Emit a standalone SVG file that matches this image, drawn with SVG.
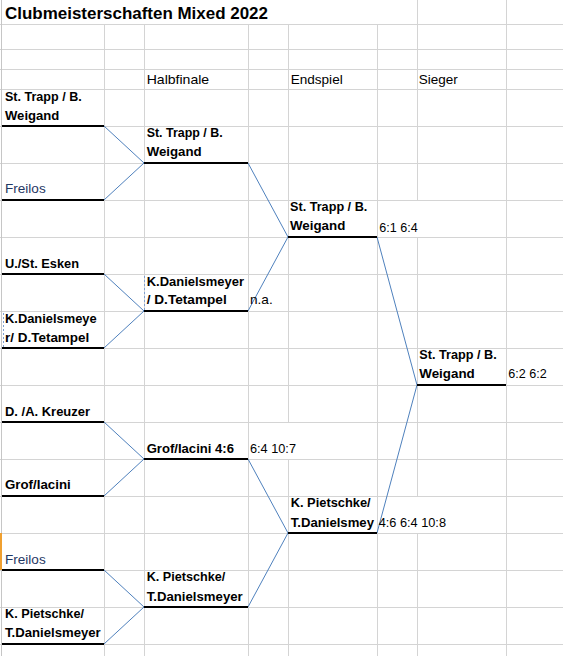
<svg xmlns="http://www.w3.org/2000/svg" width="563" height="656" viewBox="0 0 563 656">
<style>
  .grid { stroke: #D4D4D4; stroke-width: 1; fill: none; }
  .bar { stroke: #000; stroke-width: 2; }
  .conn { stroke: #4F81BD; stroke-width: 1; fill: none; }
  .b { font-family: "Liberation Sans", Arial, sans-serif; font-size: 13px; font-weight: bold; fill: #000; }
  .n { font-family: "Liberation Sans", Arial, sans-serif; font-size: 13px; fill: #000; }
  .fl { font-family: "Liberation Sans", Arial, sans-serif; font-size: 13px; fill: #1F3864; }
  .title { font-family: "Liberation Sans", Arial, sans-serif; font-size: 17px; font-weight: bold; fill: #000; }
  .dash { stroke: #7FA0D0; stroke-width: 1; stroke-dasharray: 2 2; }
</style>
<rect width="563" height="656" fill="#fff"/>
<g id="grid">
  <path class="grid" d="M0 24.5H563M0 49.5H563M0 69.5H563M0 89.5H563M0 126.5H563M0 163.5H563M0 200.5H563M0 237.5H563M0 274.5H563M0 311.5H563M0 348.5H563M0 385.5H563M0 422.5H563M0 459.5H563M0 496.5H563M0 533.5H563M0 570.5H563M0 607.5H563M0 644.5H563"/>
  <path class="grid" d="M104.5 24V656M144.5 24V656M248.5 24V656M288.5 24V422M288.5 459V656M377.5 24V656M417.5 0V200M417.5 237V496M417.5 533V656M506.5 0V656"/>
  <path d="M1.5 0V656" stroke="#C6C6C6" stroke-width="1"/>
  <rect x="0" y="533" width="2" height="37" fill="#F0A030"/>
  <line class="dash" x1="144.5" y1="276" x2="144.5" y2="310"/>
  <line class="dash" x1="3.5" y1="313" x2="3.5" y2="347"/>
</g>
<g id="title">
  <text class="title" x="5" y="19" textLength="263" lengthAdjust="spacingAndGlyphs">Clubmeisterschaften Mixed 2022</text>
</g>
<g id="headers">
  <text class="n" x="146.7" y="84" textLength="62.5" lengthAdjust="spacingAndGlyphs">Halbfinale</text>
  <text class="n" x="290.7" y="84" textLength="52" lengthAdjust="spacingAndGlyphs">Endspiel</text>
  <text class="n" x="418.7" y="84" textLength="39" lengthAdjust="spacingAndGlyphs">Sieger</text>
</g>
<g id="connectors">
  <line class="conn" x1="104" y1="126" x2="144" y2="163"/>
  <line class="conn" x1="104" y1="200" x2="144" y2="163"/>
  <line class="conn" x1="104" y1="274" x2="144" y2="311"/>
  <line class="conn" x1="104" y1="348" x2="144" y2="311"/>
  <line class="conn" x1="104" y1="422" x2="144" y2="459"/>
  <line class="conn" x1="104" y1="496" x2="144" y2="459"/>
  <line class="conn" x1="104" y1="570" x2="144" y2="607" stroke-width="2"/>
  <line class="conn" x1="104" y1="644" x2="144" y2="607"/>
  <line class="conn" x1="248" y1="163" x2="288" y2="237"/>
  <line class="conn" x1="248" y1="311" x2="288" y2="237"/>
  <line class="conn" x1="248" y1="459" x2="288" y2="533"/>
  <line class="conn" x1="248" y1="607" x2="288" y2="533"/>
  <line class="conn" x1="377" y1="237" x2="417" y2="385"/>
  <line class="conn" x1="377" y1="533" x2="417" y2="385"/>
</g>
<g id="r1-1">
  <line class="bar" x1="2" y1="126" x2="104" y2="126"/>
  <text class="b" x="5" y="100.5" textLength="76.7" lengthAdjust="spacingAndGlyphs">St. Trapp / B.</text>
  <text class="b" x="5" y="120" textLength="54.3" lengthAdjust="spacingAndGlyphs">Weigand</text>
</g>
<g id="r1-2">
  <line class="bar" x1="2" y1="200" x2="104" y2="200"/>
  <text class="fl" x="5" y="193.3" textLength="40.7" lengthAdjust="spacingAndGlyphs">Freilos</text>
</g>
<g id="r1-3">
  <line class="bar" x1="2" y1="274" x2="104" y2="274"/>
  <text class="b" x="5" y="267.7" textLength="74" lengthAdjust="spacingAndGlyphs">U./St. Esken</text>
</g>
<g id="r1-4">
  <line class="bar" x1="2" y1="348" x2="104" y2="348"/>
  <text class="b" x="5" y="322.7" textLength="91.7" lengthAdjust="spacingAndGlyphs">K.Danielsmeye</text>
  <text class="b" x="5" y="341.7" textLength="84.3" lengthAdjust="spacingAndGlyphs">r/ D.Tetampel</text>
</g>
<g id="r1-5">
  <line class="bar" x1="2" y1="422" x2="104" y2="422"/>
  <text class="b" x="5" y="415.7" textLength="85" lengthAdjust="spacingAndGlyphs">D. /A. Kreuzer</text>
</g>
<g id="r1-6">
  <line class="bar" x1="2" y1="496" x2="104" y2="496"/>
  <text class="b" x="5" y="489.3" textLength="65.7" lengthAdjust="spacingAndGlyphs">Grof/Iacini</text>
</g>
<g id="r1-7">
  <line class="bar" x1="2" y1="570" x2="104" y2="570"/>
  <text class="fl" x="5" y="564" textLength="40.7" lengthAdjust="spacingAndGlyphs">Freilos</text>
</g>
<g id="r1-8">
  <line class="bar" x1="2" y1="644" x2="104" y2="644"/>
  <text class="b" x="5" y="617.7" textLength="79" lengthAdjust="spacingAndGlyphs">K. Pietschke/</text>
  <text class="b" x="5" y="637.3" textLength="95.7" lengthAdjust="spacingAndGlyphs">T.Danielsmeyer</text>
</g>
<g id="sf-1">
  <line class="bar" x1="144" y1="163" x2="248" y2="163"/>
  <text class="b" x="146.7" y="137.3" textLength="76" lengthAdjust="spacingAndGlyphs">St. Trapp / B.</text>
  <text class="b" x="146.7" y="156" textLength="55" lengthAdjust="spacingAndGlyphs">Weigand</text>
</g>
<g id="sf-2">
  <line class="bar" x1="144" y1="311" x2="248" y2="311"/>
  <text class="b" x="146.7" y="285.7" textLength="97.3" lengthAdjust="spacingAndGlyphs">K.Danielsmeyer</text>
  <text class="b" x="146.7" y="304.3" textLength="80" lengthAdjust="spacingAndGlyphs">/ D.Tetampel</text>
  <text class="n" x="250" y="304.3" textLength="22.7" lengthAdjust="spacingAndGlyphs">n.a.</text>
</g>
<g id="sf-3">
  <line class="bar" x1="144" y1="459" x2="248" y2="459"/>
  <text class="b" x="146.7" y="452.7" textLength="87.3" lengthAdjust="spacingAndGlyphs">Grof/Iacini 4:6</text>
  <text class="n" x="250" y="452.7" textLength="46" lengthAdjust="spacingAndGlyphs">6:4 10:7</text>
</g>
<g id="sf-4">
  <line class="bar" x1="144" y1="607" x2="248" y2="607"/>
  <text class="b" x="146.7" y="580.7" textLength="78.6" lengthAdjust="spacingAndGlyphs">K. Pietschke/</text>
  <text class="b" x="146.7" y="600.7" textLength="96" lengthAdjust="spacingAndGlyphs">T.Danielsmeyer</text>
</g>
<g id="f-1">
  <line class="bar" x1="288" y1="237" x2="377" y2="237"/>
  <text class="b" x="290" y="211" textLength="77.3" lengthAdjust="spacingAndGlyphs">St. Trapp / B.</text>
  <text class="b" x="290" y="230" textLength="55.3" lengthAdjust="spacingAndGlyphs">Weigand</text>
  <text class="n" x="379.3" y="231.7" textLength="38.4" lengthAdjust="spacingAndGlyphs">6:1 6:4</text>
</g>
<g id="f-2">
  <line class="bar" x1="288" y1="533" x2="377" y2="533"/>
  <text class="b" x="290.7" y="506.7" textLength="80" lengthAdjust="spacingAndGlyphs">K. Pietschke/</text>
  <text class="b" x="290.7" y="526.7" textLength="83.3" lengthAdjust="spacingAndGlyphs">T.Danielsmey</text>
  <text class="n" x="378.7" y="526.7" textLength="67.3" lengthAdjust="spacingAndGlyphs">4:6 6:4 10:8</text>
</g>
<g id="winner">
  <line class="bar" x1="417" y1="385" x2="506" y2="385"/>
  <text class="b" x="419.3" y="359" textLength="77.4" lengthAdjust="spacingAndGlyphs">St. Trapp / B.</text>
  <text class="b" x="419.3" y="378.3" textLength="55.4" lengthAdjust="spacingAndGlyphs">Weigand</text>
  <text class="n" x="508.3" y="378.3" textLength="38.4" lengthAdjust="spacingAndGlyphs">6:2 6:2</text>
</g>
</svg>
